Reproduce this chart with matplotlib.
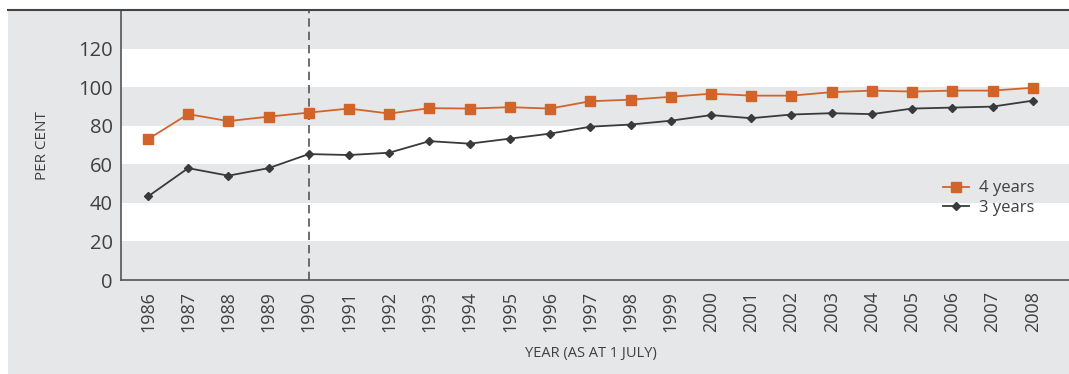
import matplotlib.pyplot as plt
from matplotlib.patches import Rectangle
from matplotlib.lines import Line2D

years = list(range(1986, 2009))
four_years = [73.0, 86.0, 82.4, 84.7, 86.8, 88.9, 86.3, 89.1, 88.9, 89.6, 88.9, 92.7,
              93.5, 95.0, 96.6, 95.6, 95.6, 97.4, 98.2, 97.7, 98.2, 98.2, 99.7]
three_years = [43.3, 58.0, 54.1, 58.0, 65.3, 64.8, 66.0, 72.0, 70.7, 73.3, 75.9, 79.5,
               80.6, 82.6, 85.5, 83.9, 85.8, 86.5, 86.0, 88.9, 89.4, 89.9, 93.0]
y_ticks = [0, 20, 40, 60, 80, 100, 120]

GREY_BG = "#e6e7e8"
TEXT = "#404040"
ORANGE = "#d2642a"
DARK = "#3a3a3a"

plt.rcParams['font.family'] = ['Open Sans', 'DejaVu Sans']

fig = plt.figure(figsize=(10.69, 3.74), dpi=100, facecolor=GREY_BG)
# white margin on the left and above the top rule
fig.patches.append(Rectangle((0, 0), 8 / 1069, 1, transform=fig.transFigure,
                             facecolor="white", edgecolor="none"))
fig.patches.append(Rectangle((0, 364 / 374), 1, 10 / 374, transform=fig.transFigure,
                             facecolor="white", edgecolor="none"))
fig.lines.append(Line2D([8 / 1069, 1], [364 / 374, 364 / 374], transform=fig.transFigure,
                        color="#444444", lw=1.5, zorder=3))

ax = fig.add_axes([121 / 1069, 94 / 374, 1 - 121 / 1069, 270 / 374])
ax.set_facecolor(GREY_BG)
for lo in (20, 60, 100):
    ax.axhspan(lo, lo + 20, color="white", lw=0, zorder=0)

ax.axvline(1990, color="#555555", lw=1.2, ls=(0, (5, 3)), zorder=1)

ax.plot(years, four_years, color=ORANGE, marker="s", ms=7, lw=1.3, label="4 years", zorder=3)
ax.plot(years, three_years, color=DARK, marker="D", ms=4.5, lw=1.3, label="3 years", zorder=3)

ax.set_xlim(1985.33, 2008.9)
ax.set_ylim(0, 140)
ax.set_yticks(y_ticks)
ax.set_xticks(years)
ax.tick_params(axis="y", length=0, labelsize=14.5, labelcolor=TEXT, pad=6)
ax.tick_params(axis="x", length=0, labelsize=13, labelcolor=TEXT, rotation=90, pad=8)

for side in ("top", "right"):
    ax.spines[side].set_visible(False)
for side in ("left", "bottom"):
    ax.spines[side].set_color("#555555")
    ax.spines[side].set_linewidth(1.2)

fig.text(42 / 1069, 1 - 146 / 374, "PER CENT", rotation=90, ha="center", va="center",
         fontsize=11, color=TEXT)
fig.text(591 / 1069, 1 - 353 / 374, "YEAR (AS AT 1 JULY)", ha="center", va="center",
         fontsize=10.5, color=TEXT)

ax.legend(loc="upper left", bbox_to_anchor=(0.858, 0.40), frameon=False, fontsize=12,
          labelcolor=TEXT, handlelength=1.6, handletextpad=0.6, labelspacing=0.2,
          borderpad=0)

fig.savefig("out.png", dpi=100, facecolor=fig.get_facecolor())
